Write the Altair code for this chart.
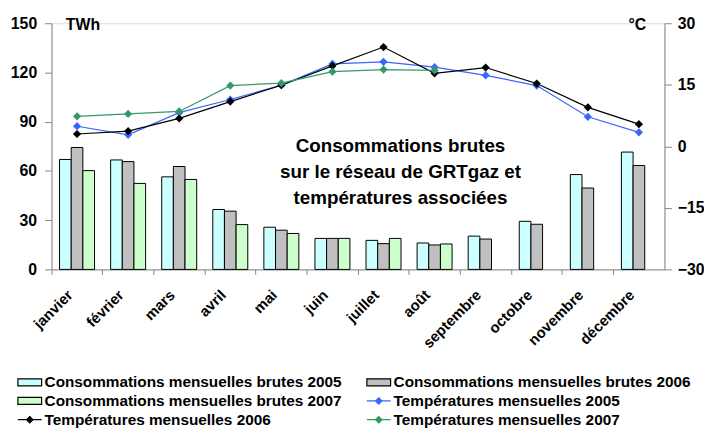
import altair as alt
import pandas as pd

months = ["janvier", "février", "mars", "avril", "mai", "juin", "juillet",
          "août", "septembre", "octobre", "novembre", "décembre"]

cons_2005 = [67.0, 66.7, 56.4, 36.5, 25.7, 18.9, 17.7, 16.1, 20.3, 29.3, 57.8, 71.5]
cons_2006 = [74.3, 65.7, 62.7, 35.5, 23.9, 18.9, 15.7, 14.9, 18.5, 27.5, 49.6, 63.3]
cons_2007 = [60.2, 52.4, 54.8, 27.3, 21.9, 18.9, 18.9, 15.5, None, None, None, None]

temp_2005 = [4.9, 2.8, 8.2, 11.4, 14.9, 20.1, 20.6, 19.3, 17.3, 14.8, 7.2, 3.4]
temp_2006 = [3.0, 3.7, 6.8, 10.9, 14.9, 19.6, 24.2, 17.8, 19.2, 15.3, 9.5, 5.4]
temp_2007 = [7.3, 7.9, 8.5, 14.8, 15.4, 18.2, 18.7, 18.5, None, None, None, None]

bar_series = ["Consommations mensuelles brutes 2005",
              "Consommations mensuelles brutes 2006",
              "Consommations mensuelles brutes 2007"]
line_series = ["Températures mensuelles 2005",
               "Températures mensuelles 2006",
               "Températures mensuelles 2007"]
all_series = bar_series + line_series

fill_colors = ["#ccffff", "#c0c0c0", "#ccffcc", "#3a66ff", "#000000", "#339966"]
stroke_colors = ["#000000", "#000000", "#000000", "#3a66ff", "#000000", "#339966"]
rect_path = "M-1.5,-0.45H1.5V0.45H-1.5Z"
line_path = "M-1.5,0H1.5M0,-0.4L0.4,0L0,0.4L-0.4,0Z"
shape_paths = [rect_path, rect_path, rect_path, line_path, line_path, line_path]

bar_rows = []
for name, vals in zip(bar_series, [cons_2005, cons_2006, cons_2007]):
    for m, v in zip(months, vals):
        if v is not None:
            bar_rows.append({"mois": m, "serie": name, "valeur": v})
bars_df = pd.DataFrame(bar_rows)

temp_rows = []
for name, vals in zip(line_series, [temp_2005, temp_2006, temp_2007]):
    for m, v in zip(months, vals):
        if v is not None:
            temp_rows.append({"mois": m, "serie": name, "temp": v})
temp_df = pd.DataFrame(temp_rows)

FONT = "Liberation Sans"
W, H = 620, 249

fill_scale = alt.Scale(domain=all_series, range=fill_colors)
stroke_scale = alt.Scale(domain=all_series, range=stroke_colors)
shape_scale = alt.Scale(domain=all_series, range=shape_paths)

legend = alt.Legend(title=None, orient="none", legendX=-31, legendY=354,
                    direction="horizontal",
                    columns=2, columnPadding=22, rowPadding=1, padding=0,
                    labelFont=FONT, labelFontSize=15.5, labelFontWeight="bold",
                    labelColor="black", labelOffset=6, labelLimit=400,
                    symbolSize=256, symbolStrokeWidth=1.2)

x_axis = alt.Axis(title=None, labelAngle=-45, labelFont=FONT, labelFontSize=15,
                  labelFontWeight="bold", labelColor="black", tickSize=5,
                  bandPosition=0, labelPadding=13, labelOffset=-12)
x_enc = alt.X("mois:N", sort=months,
              scale=alt.Scale(type="band", domain=months, paddingInner=0, paddingOuter=0),
              axis=x_axis)

y_left = alt.Y("valeur:Q", scale=alt.Scale(domain=[0, 150]),
               axis=alt.Axis(values=[0, 30, 60, 90, 120, 150], title="TWh",
                             titleAngle=0, titleX=14, titleY=1.5, titleAlign="left",
                             titleBaseline="middle", titleFont=FONT, titleFontSize=16,
                             titleFontWeight="bold", labelFont=FONT, labelFontSize=16,
                             labelFontWeight="bold", labelColor="black",
                             tickSize=7, labelPadding=8, grid=False))

y_right = alt.Y("temp:Q", scale=alt.Scale(domain=[-30, 30]),
                axis=alt.Axis(orient="right", values=[-30, -15, 0, 15, 30], title="°C",
                              titleAngle=0, titleX=-19, titleY=1.5, titleAlign="right",
                              titleBaseline="middle", titleFont=FONT, titleFontSize=16,
                              titleFontWeight="bold", labelFont=FONT, labelFontSize=16,
                              labelFontWeight="bold", labelColor="black",
                              tickSize=7, labelPadding=6, grid=False))

bars = alt.Chart(bars_df).mark_bar(strokeWidth=1).encode(
    x=x_enc,
    xOffset=alt.XOffset("serie:N", sort=bar_series,
                        scale=alt.Scale(domain=bar_series, paddingInner=0, paddingOuter=0.69)),
    y=y_left,
    fill=alt.Fill("serie:N", scale=fill_scale, legend=legend),
    stroke=alt.Stroke("serie:N", scale=stroke_scale, legend=legend),
)

lines = alt.Chart(temp_df).mark_line(strokeWidth=1.2).encode(
    x=x_enc,
    y=y_right,
    stroke=alt.Stroke("serie:N", scale=stroke_scale, legend=legend),
)

points = alt.Chart(temp_df).mark_point(shape="diamond", filled=True, size=30, opacity=1).encode(
    x=x_enc,
    y=y_right,
    fill=alt.Fill("serie:N", scale=fill_scale, legend=legend),
    stroke=alt.Stroke("serie:N", scale=stroke_scale, legend=legend),
)

legend_shapes = alt.Chart(temp_df).transform_filter("false").mark_point(filled=True).encode(
    x=x_enc,
    y=y_right,
    shape=alt.Shape("serie:N", scale=shape_scale, legend=legend),
    fill=alt.Fill("serie:N", scale=fill_scale, legend=legend),
    stroke=alt.Stroke("serie:N", scale=stroke_scale, legend=legend),
)

right = alt.layer(lines, points, legend_shapes)

chart = alt.layer(bars, right).resolve_scale(y="independent").properties(
    width=W, height=H,
    autosize=alt.AutoSizeParams(type="none"),
    padding={"left": 44, "top": 13, "right": 40, "bottom": 158},
    title=alt.TitleParams(
        text=["Consommations brutes", "sur le réseau de GRTgaz et",
              "températures associées"],
        font=FONT, fontSize=19, fontWeight="bold", color="black",
        anchor="middle", frame="group", baseline="top", offset=0,
        dx=43, dy=195, lineHeight=26.5, orient="top"),
).configure_view(stroke=None).configure_axis(
    domainColor="black", tickColor="black", domainWidth=1, tickWidth=1
).configure(background="white")

chart.save("out.html", embed_options={"renderer": "svg", "actions": False})
